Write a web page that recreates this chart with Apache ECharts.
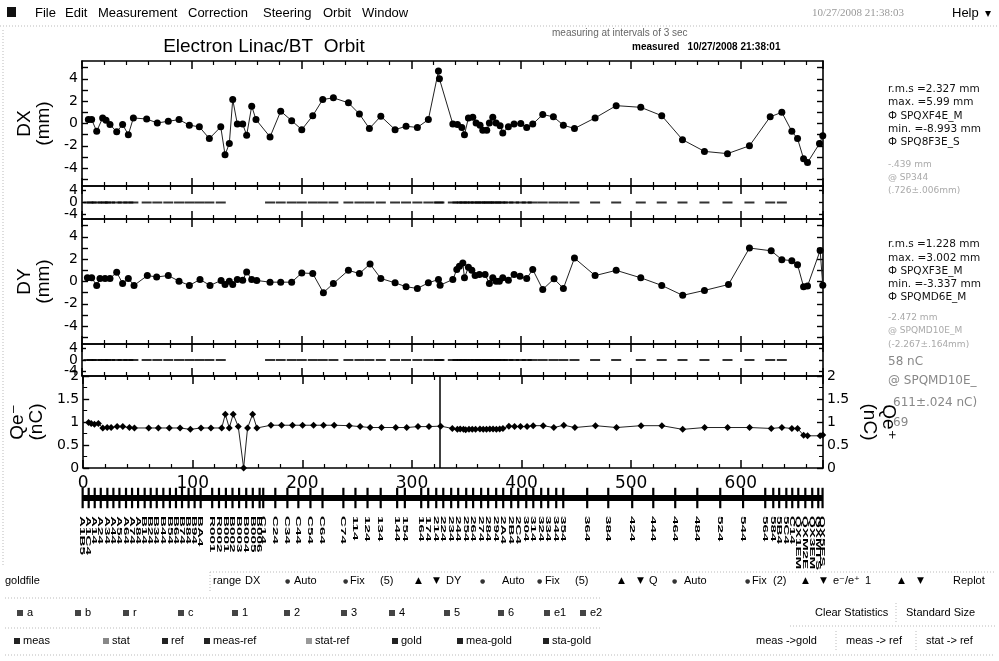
<!DOCTYPE html>
<html><head><meta charset="utf-8">
<script src="https://cdn.jsdelivr.net/npm/echarts@6/dist/echarts.min.js"></script>
<style>html,body{margin:0;padding:0;background:#fff}#c{width:999px;height:661px}</style>
</head><body><div id="c"></div>
<script>
// ---------------- data ----------------
const dxPos = [5.8,8.8,13.4,18.8,21.9,25.5,31.6,37,42.2,46.8,58.9,68.6,78.6,88.4,97.8,106.9,116,126.4,130.3,134.2,137.3,141.5,146.4,150,154.6,158.5,171.3,181,191,200.2,210.2,219.3,229,242.7,252.7,261.8,272.2,285.2,295.2,305.5,315.5,324.7,325.6,337.8,342,346,348.4,352,356,359,362.6,365.1,368.7,371.1,374.2,377.2,380.9,383.3,388.4,393.6,399.7,405.1,410.6,419.7,429.4,438.5,448.6,467.4,486.6,509,528.1,547,567,588,608,626.9,637.5,646.6,651.8,657.3,660.9,671.8,674.8];
const dxVal = [0.35,0.35,-0.7,0.5,0.3,-0.1,-0.75,-0.1,-1.0,0.5,0.4,0.05,0.2,0.35,-0.15,-0.3,-1.35,-0.3,-2.8,-1.8,2.15,-0.05,-0.05,-1.05,1.55,0.35,-1.2,1.1,0.25,-0.55,0.7,2.15,2.3,1.85,0.85,-0.45,0.65,-0.55,-0.25,-0.35,0.35,4.7,4.0,-0.05,-0.1,-0.35,-1.0,0.5,0.55,0.05,-0.15,-0.6,-0.6,0.05,0.55,0.05,-0.2,-0.85,-0.3,-0.05,0,-0.35,-0.05,0.8,0.6,-0.15,-0.45,0.5,1.6,1.45,0.7,-1.45,-2.5,-2.7,-2.0,0.6,1.0,-0.7,-1.35,-3.15,-3.5,-1.8,-1.1];
const dyPos = [4.9,8.8,13.4,16.4,21,25.5,31.6,37,42.2,47.4,59.5,68,78.6,88.4,97.8,107.5,116.6,126.7,130.3,134.2,137.3,141.5,146.4,150,154.6,159.2,171.3,181,191,200.2,210.2,219.9,229,242.7,252.7,262.4,272.2,285.2,295.2,305.5,315.5,324.7,326.2,337.8,341.4,343.8,346.9,348.4,352,355.1,358.1,362,367.2,371.1,374.2,377.2,380.2,383.3,388.4,393.6,399,405.1,410.6,419.7,430,438.5,448.6,467.4,486.6,509,528.1,547.2,567,588.9,608,627.8,637.5,646.6,651.8,657.3,660.9,672.4,674.8];
const dyVal = [0.33,0.33,-0.35,0.27,0.27,0.27,0.83,-0.18,0.27,-0.35,0.53,0.41,0.53,0.03,-0.35,0.18,-0.35,0.09,-0.27,0.03,-0.27,0.18,0.12,0.86,0.18,0.09,-0.06,-0.06,-0.06,0.77,0.71,-1.0,-0.18,1.0,0.71,1.57,0.27,-0.12,-0.47,-0.62,-0.12,0.18,-0.33,0.18,1.07,1.36,1.66,0.33,1.27,1.0,0.53,0.62,0.62,-0.18,0.33,0.03,0.03,0.33,0.12,0.62,0.47,0.27,1.07,-0.71,0.24,-0.62,2.1,0.53,1.0,0.33,-0.35,-1.24,-0.8,-0.27,3.0,2.75,1.96,1.87,1.51,-0.47,-0.41,2.78,-0.33];
const qPos = [4.9,7.3,10.3,13.9,17.9,21.9,25.5,31,36.2,42.2,46.8,59.8,68.6,78.6,88.4,97.8,107.5,116.6,126.4,129.7,133.3,136.9,141.5,146.4,150,154.6,158.5,171.3,181,191,200.2,210.2,219.3,229,242.7,252.7,261.8,272.2,285.2,295.2,305.5,315.5,326.2,336.8,341.4,344,347,349,352,355,358,362,365,368,371,374,377,380,383,388.4,393.6,399,405,410.6,419.7,429.4,438.5,448.6,467.4,486.6,509,528,547,567,588,608,627.8,637.5,646.6,651.8,657.3,660.9,672.4,674.8];
const qVal = [0.99,0.97,0.95,0.97,0.87,0.88,0.88,0.90,0.90,0.88,0.87,0.87,0.87,0.87,0.87,0.84,0.87,0.87,0.87,1.17,0.87,1.17,0.90,0,0.87,1.17,0.87,0.93,0.93,0.93,0.93,0.93,0.93,0.93,0.92,0.90,0.88,0.88,0.88,0.88,0.90,0.90,0.91,0.86,0.84,0.85,0.84,0.83,0.84,0.84,0.84,0.85,0.84,0.84,0.85,0.85,0.84,0.85,0.86,0.91,0.90,0.90,0.90,0.92,0.92,0.88,0.93,0.88,0.92,0.88,0.92,0.92,0.84,0.88,0.88,0.88,0.86,0.88,0.86,0.86,0.71,0.70,0.70,0.72];
const qeMarker = [325.5];
const xRange = [0, 675];
const dRange = [-5.6, 5.6];
const stripRange = [-5.5, 5.5];
const qRange = [0, 2];
const dTickLabels = [-4, -2, 0, 2, 4];
const stripTickLabels = [-4, 0, 4];
const stripEdgeLabels = [-4, 4];
const stripMidLabels = [0];
const dTickMarks = [-5, -4, -3, -2, -1, 0, 1, 2, 3, 4, 5];
const elemName = ["A1B5","A1C4","A14","A24","A34","A44","A54","A64","A74","A84","B14","B24","B34","B44","B54","B64","B74","B84","B94","BA4",
  "R001","R002","B001","B002","B003","B004","B005","B006",
  "C14","C24","C34","C44","C54","C64","C74",
  "114","124","134","144","154",
  "164","174","214","224","234","244","254","264","274","284","294","2A4","2B4","2C4","304","314","324","334","344","354",
  "364","384","424","444","464","484","524","544","564",
  "584","5B4","5C4","C14","QX1EM","QXM2E","QX3EM","QXMTS","QX5ES"];
const elemPos = [0.5,6,11.5,17,23,28.5,34,40,45.5,51,57,62.5,68,74,80,85.5,91,97,102.5,108,
  118.5,124.7,131,137,143,149.5,155.5,161.7,
  165,176,187,197,208,219,238,
  249,260,272,287,294,
  308.9,315.3,322.6,329,336.2,342.6,349.9,356.2,363.5,369.9,377.2,383.6,390.9,397.3,404.6,411,418.2,424.6,431.9,438.3,
  460.1,479.3,501.1,520.3,540.3,560.4,581.3,602.1,622.3,
  629.6,635,641.5,646.9,652.4,658.8,665.1,670.6,674.5];

// ---------------- layout ----------------
const FF = '"DejaVu Sans", sans-serif';
const AF = '"Liberation Sans", Arial, "DejaVu Sans", sans-serif';
const gridBoxes = [[61,125],[186,33],[219,125],[344,32],[376,92],[486,24],[514,50]];
const grid = gridBoxes.map(b => ({left: 82, right: 176, top: b[0], height: b[1]}));

const lineBlack = {color: '#000', width: 1.6};
function xA(gi, pos, showLabel, hidden) {
  return {
    type: 'value', gridIndex: gi, position: pos, min: xRange[0], max: xRange[1], interval: 100,
    show: !hidden,
    axisLine: {show: true, onZero: false, lineStyle: lineBlack},
    axisTick: {show: true, inside: true, length: 8, lineStyle: {color: '#000', width: 1.5}},
    minorTick: {show: true, splitNumber: 5, length: 4, lineStyle: {color: '#000', width: 1.2}},
    splitLine: {show: false},
    axisLabel: {show: showLabel, showMaxLabel: false, color: '#000', fontFamily: FF, fontSize: 17, margin: 7}
  };
}
function yA(gi, pos, o) {
  const a = {
    type: 'value', gridIndex: gi, position: pos, min: o.min, max: o.max,
    axisLine: {show: !o.noLine, onZero: false, lineStyle: lineBlack},
    axisTick: {show: !o.noLine, inside: true, length: o.tickLen || 6, lineStyle: {color: '#000', width: 1.4}},
    splitLine: {show: false},
    axisLabel: {show: !!o.label, hideOverlap: false, showMinLabel: true, showMaxLabel: true,
      color: '#000', fontFamily: FF, fontSize: 14, margin: 4}
  };
  if (o.interval) { a.interval = o.interval; a.minorTick = {show: true, splitNumber: 2, length: 4, lineStyle: {color: '#000'}}; }
  if (o.labels) a.axisLabel.customValues = o.labels;
  if (o.ticks) a.axisTick.customValues = o.ticks;
  if (o.name) {
    a.name = o.name; a.nameLocation = 'middle'; a.nameRotate = o.nameRotate; a.nameGap = o.nameGap;
    a.nameTextStyle = {fontFamily: AF, fontSize: 19, lineHeight: 19, color: '#000'};
  }
  if (o.hidden) a.show = false;
  return a;
}

const xAxis = [];
for (let g = 0; g < 5; g++) { xAxis.push(xA(g, 'bottom', g === 4)); xAxis.push(xA(g, 'top', false)); }
xAxis.push(xA(5, 'bottom', false, true));
xAxis.push(xA(6, 'bottom', false, true));

const yAxis = [
  yA(0, 'left', {min: dRange[0], max: dRange[1], label: true, labels: dTickLabels, ticks: dTickMarks, name: 'DX\n(mm)', nameRotate: 90, nameGap: 26}),
  yA(0, 'right', {min: dRange[0], max: dRange[1], ticks: dTickMarks}),
  yA(1, 'left', {min: stripRange[0], max: stripRange[1], label: true, labels: stripEdgeLabels, ticks: stripTickLabels, tickLen: 4}),
  yA(1, 'right', {min: stripRange[0], max: stripRange[1], ticks: stripTickLabels, tickLen: 4}),
  yA(2, 'left', {min: dRange[0], max: dRange[1], label: true, labels: dTickLabels, ticks: dTickMarks, name: 'DY\n(mm)', nameRotate: 90, nameGap: 26}),
  yA(2, 'right', {min: dRange[0], max: dRange[1], ticks: dTickMarks}),
  yA(3, 'left', {min: stripRange[0], max: stripRange[1], label: true, labels: stripEdgeLabels, ticks: stripTickLabels, tickLen: 4}),
  yA(3, 'right', {min: stripRange[0], max: stripRange[1], ticks: stripTickLabels, tickLen: 4}),
  yA(4, 'left', {min: qRange[0], max: qRange[1], interval: 0.5, label: true, name: 'Qe\u207B\n(nC)', nameRotate: 90, nameGap: 26}),
  yA(4, 'right', {min: qRange[0], max: qRange[1], interval: 0.5, label: true, name: 'Qe\u207A\n(nC)', nameRotate: -90, nameGap: 30}),
  yA(5, 'left', {min: -1, max: 1, hidden: true}),
  yA(6, 'left', {min: 0, max: 1, hidden: true}),
  yA(1, 'left', {min: stripRange[0], max: stripRange[1], label: true, labels: stripMidLabels, noLine: true}),
  yA(3, 'left', {min: stripRange[0], max: stripRange[1], label: true, labels: stripMidLabels, noLine: true})
];

const zip = (a, b) => a.map((v, i) => [v, b[i]]);
const stripPos = dxPos.filter(p => (p < 127 || p > 160) && p < 646);

const series = [
  {type: 'line', xAxisIndex: 0, yAxisIndex: 0, data: zip(dxPos, dxVal), symbol: 'circle', symbolSize: 7,
   itemStyle: {color: '#000'}, lineStyle: {color: '#222', width: 1}, animation: false},
  {type: 'scatter', xAxisIndex: 2, yAxisIndex: 2, data: stripPos.map(p => [p, 0]), symbol: 'rect', symbolSize: [10, 2],
   itemStyle: {color: '#000'}, animation: false},
  {type: 'line', xAxisIndex: 4, yAxisIndex: 4, data: zip(dyPos, dyVal), symbol: 'circle', symbolSize: 7,
   itemStyle: {color: '#000'}, lineStyle: {color: '#222', width: 1}, animation: false},
  {type: 'scatter', xAxisIndex: 6, yAxisIndex: 6, data: stripPos.map(p => [p, 0]), symbol: 'rect', symbolSize: [10, 2],
   itemStyle: {color: '#000'}, animation: false},
  {type: 'line', xAxisIndex: 8, yAxisIndex: 8, data: zip(qPos, qVal), symbol: 'diamond', symbolSize: 7,
   itemStyle: {color: '#000'}, lineStyle: {color: '#222', width: 1}, animation: false,
   markLine: {silent: true, symbol: 'none', label: {show: false}, lineStyle: {color: '#000', width: 1.5, type: 'solid'},
     data: qeMarker.map(v => ({xAxis: v}))}},
  {type: 'line', xAxisIndex: 10, yAxisIndex: 10, data: xRange.map(v => [v, 0]), symbol: 'none',
   lineStyle: {color: '#000', width: 6}, animation: false},
  {type: 'custom', xAxisIndex: 10, yAxisIndex: 10, data: elemPos.map(p => [p]), animation: false,
   renderItem: (params, api) => {
     const t = api.coord([api.value(0), 0.85]);
     const b = api.coord([api.value(0), -0.85]);
     return {type: 'rect', shape: {x: t[0] - 1, y: t[1], width: 2.2, height: b[1] - t[1]}, style: {fill: '#000'}};
   }},
  {type: 'custom', xAxisIndex: 11, yAxisIndex: 11, data: elemPos.map((p, i) => [p, i]), animation: false, clip: false,
   renderItem: (params, api) => {
     const pt = api.coord([api.value(0), 1]);
     return {type: 'text', x: pt[0], y: pt[1] + 2, rotation: -Math.PI / 2, scaleX: 1.9,
       style: {text: elemName[api.value(1)], font: 'bold 8px "Liberation Sans", Arial, sans-serif', fill: '#000',
         align: 'left', verticalAlign: 'middle'}};
   }}
];

// ---------------- GUI texts ----------------
const G = [];
function T(x, y, text, font, fill, align) {
  G.push({type: 'text', x: x, y: y, silent: true,
    style: {text: text, font: font, fill: fill || '#000', align: align || 'left', verticalAlign: 'middle'}});
}
function Rect(x, y, w, h, fill) { G.push({type: 'rect', silent: true, shape: {x, y, width: w, height: h}, style: {fill}}); }
function HL(x1, x2, y, col) { G.push({type: 'line', silent: true, shape: {x1, y1: y, x2, y2: y}, style: {stroke: col || '#bbb', lineWidth: 1, lineDash: [1, 2]}}); }
function VL(x, y1, y2, col) { G.push({type: 'line', silent: true, shape: {x1: x, y1, x2: x, y2}, style: {stroke: col || '#bbb', lineWidth: 1, lineDash: [1, 2]}}); }

const menuF = '13px ' + AF;
Rect(7, 7, 9, 10, '#111');
[['File', 35], ['Edit', 65], ['Measurement', 98], ['Correction', 188], ['Steering', 263], ['Orbit', 323], ['Window', 362]]
  .forEach(m => T(m[1], 13, m[0], menuF));
T(812, 13, '10/27/2008 21:38:03', '11px "Liberation Serif", serif', '#999');
T(952, 13, 'Help', menuF);
T(985, 14, '\u25BE', '12px "DejaVu Sans"');
HL(0, 999, 26);
VL(3, 30, 565);
T(264, 47, 'Electron Linac/BT  Orbit', '19px ' + AF, '#000', 'center');
T(552, 33, 'measuring at intervals of 3 sec', '10px ' + AF, '#666');
T(632, 47, 'measured   10/27/2008 21:38:01', 'bold 10px ' + AF, '#000');

const sF = '10.5px ' + FF, gF = '9px ' + FF;
[['r.m.s =2.327 mm', 89], ['max. =5.99 mm', 102], ['\u0424 SPQXF4E_M', 116], ['min. =-8.993 mm', 129], ['\u0424 SPQ8F3E_S', 142]]
  .forEach(l => T(888, l[1], l[0], sF, '#111'));
[['-.439 mm', 165], ['@ SP344', 178], ['(.726\u00B1.006mm)', 191]].forEach(l => T(888, l[1], l[0], gF, '#aaa'));
[['r.m.s =1.228 mm', 244], ['max. =3.002 mm', 258], ['\u0424 SPQXF3E_M', 271], ['min. =-3.337 mm', 284], ['\u0424 SPQMD6E_M', 297]]
  .forEach(l => T(888, l[1], l[0], sF, '#111'));
[['-2.472 mm', 318], ['@ SPQMD10E_M', 331], ['(-2.267\u00B1.164mm)', 345]].forEach(l => T(888, l[1], l[0], gF, '#aaa'));
T(888, 362, '58 nC', '12px ' + FF, '#888');
T(888, 381, '@ SPQMD10E_', '12px ' + FF, '#888');
T(893, 403, '611\u00B1.024 nC)', '12px ' + FF, '#888');
T(893, 423, '69', '12px ' + FF, '#888');

// bottom controls
const bF = '11px ' + AF;
const sym = '9px "DejaVu Sans"';
T(5, 581, 'goldfile', bF);
HL(210, 995, 572); VL(210, 572, 592);
[['range', 213], ['DX', 245], ['Auto', 294], ['Fix', 350], ['(5)', 380], ['DY', 446], ['Auto', 502], ['Fix', 545], ['(5)', 575],
 ['Q', 649], ['Auto', 684], ['Fix', 752], ['(2)', 773], ['e\u207B/e\u207A', 833], ['1', 865], ['Replot', 953]]
  .forEach(t => T(t[1], 581, t[0], bF));
[285, 343, 480, 537, 672, 745].forEach(x => T(x, 581, '\u25CF', '6px "DejaVu Sans"', '#333'));
[415, 618, 802, 898].forEach(x => T(x, 581, '\u25B2', sym));
[433, 637, 820, 917].forEach(x => T(x, 581, '\u25BC', sym));
HL(5, 600, 598); HL(5, 600, 628); HL(5, 995, 655); HL(790, 995, 626);
[['a', 17], ['b', 75], ['r', 123], ['c', 178], ['1', 232], ['2', 284], ['3', 341], ['4', 389], ['5', 444], ['6', 498], ['e1', 544], ['e2', 580]]
  .forEach(t => { Rect(t[1], 610, 6, 6, '#444'); T(t[1] + 10, 613, t[0], bF); });
T(815, 613, 'Clear Statistics', bF); VL(896, 603, 623);
T(906, 613, 'Standard Size', bF);
[['meas', 14, '#222'], ['stat', 103, '#888'], ['ref', 162, '#222'], ['meas-ref', 204, '#222'], ['stat-ref', 306, '#999'],
 ['gold', 392, '#222'], ['mea-gold', 457, '#222'], ['sta-gold', 543, '#222']]
  .forEach(t => { Rect(t[1], 638, 6, 6, t[2]); T(t[1] + 9, 641, t[0], bF); });
T(756, 641, 'meas ->gold', bF); VL(836, 631, 651);
T(846, 641, 'meas -> ref', bF); VL(916, 631, 651);
T(926, 641, 'stat -> ref', bF);

const chart = echarts.init(document.getElementById('c'), null, {renderer: 'canvas'});
chart.setOption({
  backgroundColor: '#fff', animation: false,
  grid: grid, xAxis: xAxis, yAxis: yAxis, series: series, graphic: {elements: G}
});
</script></body></html>
